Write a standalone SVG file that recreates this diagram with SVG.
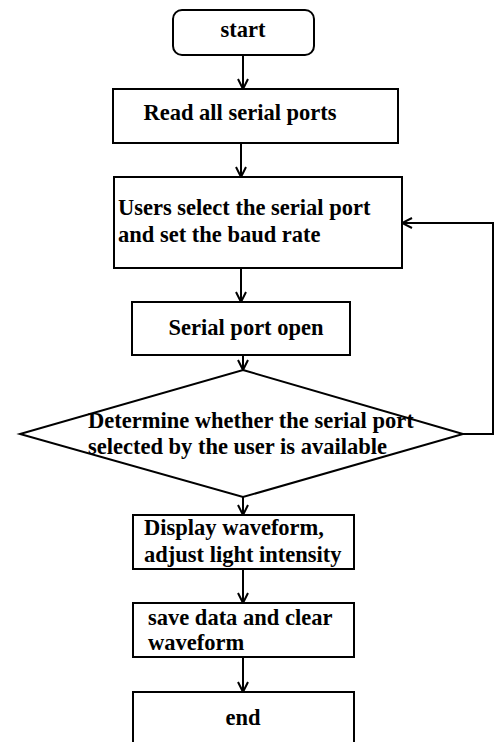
<svg xmlns="http://www.w3.org/2000/svg" width="494" height="742" viewBox="0 0 494 742">
<style>
.box{fill:#fff;stroke:#000;stroke-width:2}
.t{font-family:"Liberation Serif","Times New Roman",serif;font-weight:bold;font-size:22.5px;fill:#000}
.c{text-anchor:middle}
.ln{fill:none;stroke:#000;stroke-width:2}
</style>
<defs>
<marker id="ah" viewBox="0 0 12 12" refX="11" refY="6" markerWidth="12" markerHeight="12" markerUnits="userSpaceOnUse" orient="auto">
<path d="M1,1 L11,6 L1,11" fill="none" stroke="#000" stroke-width="2"/>
</marker>
</defs>
<rect width="494" height="742" fill="#fff"/>
<g id="connectors">
<line class="ln" x1="243" y1="55" x2="243" y2="89" marker-end="url(#ah)"/>
<line class="ln" x1="241" y1="143" x2="241" y2="177" marker-end="url(#ah)"/>
<line class="ln" x1="241" y1="268" x2="241" y2="302" marker-end="url(#ah)"/>
<line class="ln" x1="243" y1="355" x2="243" y2="370" marker-end="url(#ah)"/>
<line class="ln" x1="243" y1="497" x2="243" y2="515" marker-end="url(#ah)"/>
<line class="ln" x1="243" y1="569" x2="243" y2="603" marker-end="url(#ah)"/>
<line class="ln" x1="243" y1="657" x2="243" y2="692" marker-end="url(#ah)"/>
<polyline class="ln" points="463,434 493,434 493,223 402,223" marker-end="url(#ah)"/>
</g>
<g id="start">
<rect class="box" x="173" y="10" width="141" height="45" rx="9"/>
<text class="t c" x="243" y="37">start</text>
</g>
<g id="read">
<rect class="box" x="113" y="89" width="285" height="54"/>
<text class="t c" x="240" y="120">Read all serial ports</text>
</g>
<g id="select">
<rect class="box" x="114" y="177" width="288" height="91"/>
<text class="t" x="118" y="215">Users select the serial port</text>
<text class="t" x="118" y="242">and set the baud rate</text>
</g>
<g id="open">
<rect class="box" x="132" y="302" width="218" height="53"/>
<text class="t c" x="246" y="335">Serial port open</text>
</g>
<g id="determine">
<polygon class="box" points="243,370 463,434 243,497 20,434"/>
<text class="t" x="88" y="428">Determine whether the serial port</text>
<text class="t" x="88" y="454">selected by the user is available</text>
</g>
<g id="display">
<rect class="box" x="133" y="515" width="221" height="54"/>
<text class="t" x="144" y="535">Display waveform,</text>
<text class="t" x="144" y="562">adjust light intensity</text>
</g>
<g id="save">
<rect class="box" x="133" y="603" width="221" height="54"/>
<text class="t" x="148" y="625">save data and clear</text>
<text class="t" x="148" y="650">waveform</text>
</g>
<g id="end">
<rect class="box" x="133" y="692" width="221" height="60"/>
<text class="t c" x="243" y="725">end</text>
</g>
</svg>
